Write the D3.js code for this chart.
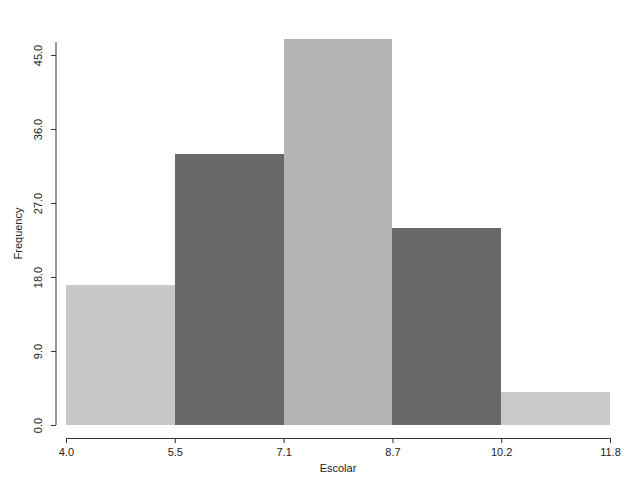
<!DOCTYPE html>
<html>
<head>
<meta charset="utf-8">
<script src="https://cdn.jsdelivr.net/npm/d3@7"></script>
<style>
  body { margin: 0; background: #fff; }
  text { font-family: "Liberation Sans", Arial, sans-serif; fill: #222; }
</style>
</head>
<body>
<svg id="chart" width="638" height="489"></svg>
<script>
// histogram of Escolar
var binEdges = [4.0, 5.56, 7.12, 8.68, 10.24, 11.8];
var tickLabels = ["4.0", "5.5", "7.1", "8.7", "10.2", "11.8"];
var frequencies = [17, 33, 47, 24, 4];
var yTicks = [0, 9, 18, 27, 36, 45];

var barColors = ["#c8c8c8", "#696969", "#b4b4b4", "#696969", "#cacaca"];

var svg = d3.select("#chart");

var x = d3.scaleLinear().domain([binEdges[0], binEdges[binEdges.length - 1]]).range([66, 610]);
var y = d3.scaleLinear().domain([0, 45]).range([425, 55]);

var bins = frequencies.map(function(f, i) {
	return { x0: binEdges[i], x1: binEdges[i + 1], n: f };
});

svg.append("g")
	.selectAll("rect")
	.data(bins)
	.enter().append("rect")
	.attr("x", function(d) { return x(d.x0); })
	.attr("width", function(d) { return x(d.x1) - x(d.x0); })
	.attr("y", function(d) { return y(d.n); })
	.attr("height", function(d) { return y(0) - y(d.n); })
	.attr("fill", function(d, i) { return barColors[i]; })
	.attr("shape-rendering", "crispEdges");

// y axis
var yAxis = svg.append("g")
	.attr("transform", "translate(56,0)")
	.call(d3.axisLeft(y).tickValues(yTicks).tickFormat(d3.format(".1f")).tickSize(5).tickSizeOuter(0).tickPadding(9));
yAxis.select(".domain").remove();
yAxis.append("line")
	.attr("x1", 0).attr("x2", 0)
	.attr("y1", y(0)).attr("y2", 42)
	.attr("stroke", "#333");
yAxis.selectAll(".tick line").attr("stroke", "#333");
yAxis.selectAll(".tick text")
	.attr("transform", "rotate(-90)")
	.attr("x", 0)
	.attr("y", -14)
	.attr("dy", "0")
	.attr("text-anchor", "middle")
	.attr("font-size", 11)
	.attr("fill", "#222");

// x axis
var xAxis = svg.append("g")
	.attr("transform", "translate(0,438)")
	.call(d3.axisBottom(x).tickValues(binEdges).tickFormat(function(d, i) { return tickLabels[i]; }).tickSize(5).tickSizeOuter(0).tickPadding(5));
xAxis.select(".domain").attr("stroke", "#333");
xAxis.selectAll(".tick line").attr("stroke", "#333");
xAxis.selectAll(".tick text").attr("font-size", 11).attr("fill", "#222");

svg.append("text")
	.attr("x", (x.range()[0] + x.range()[1]) / 2)
	.attr("y", 472)
	.attr("text-anchor", "middle")
	.attr("font-size", 11)
	.text("Escolar");

svg.append("text")
	.attr("transform", "translate(22," + (y(0) + 42) / 2 + ")rotate(-90)")
	.attr("text-anchor", "middle")
	.attr("font-size", 11)
	.text("Frequency");
</script>
</body>
</html>
